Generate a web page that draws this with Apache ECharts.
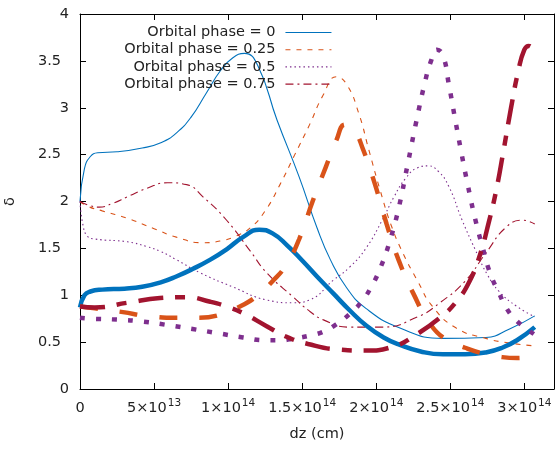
<!DOCTYPE html>
<html>
<head>
<meta charset="utf-8">
<script src="https://cdn.jsdelivr.net/npm/echarts@6/dist/echarts.min.js"></script>
<style>html,body{margin:0;padding:0;background:#fff}#c{width:556px;height:449px}</style>
</head>
<body>
<div id="c"></div>
<script>
// x in units of 1e14 cm, y = delta
const legendNames = ['Orbital phase = 0', 'Orbital phase = 0.25', 'Orbital phase = 0.5', 'Orbital phase = 0.75'];
const xTickStep = 5e13;
const yTickStep = 0.5;

const phase0Thin = [[0,2.0],[0.03,2.35],[0.07,2.48],[0.12,2.52],[0.25,2.53],[0.42,2.57],[0.55,2.63],[0.65,2.73],[0.75,2.9],[0.85,3.15],[0.95,3.4],[1.03,3.53],[1.11,3.58],[1.2,3.45],[1.33,2.87],[1.48,2.26],[1.6,1.72],[1.69,1.38],[1.8,1.08],[1.93,0.86],[2.16,0.65],[2.45,0.54],[2.74,0.55],[2.9,0.64],[3.07,0.78]];
const phase025Thin = [[0,2.0],[0.05,1.95],[0.15,1.9],[0.32,1.82],[0.5,1.71],[0.65,1.62],[0.83,1.56],[0.95,1.58],[1.05,1.63],[1.15,1.72],[1.25,1.9],[1.35,2.18],[1.45,2.5],[1.55,2.82],[1.64,3.13],[1.73,3.33],[1.8,3.25],[1.88,2.95],[1.95,2.55],[2.03,2.1],[2.1,1.75],[2.18,1.45],[2.28,1.15],[2.38,0.88],[2.54,0.65],[2.74,0.54],[2.9,0.49],[3.07,0.46]];
const phase05Thin = [[0,2.0],[0.02,1.75],[0.05,1.63],[0.1,1.6],[0.32,1.57],[0.45,1.52],[0.54,1.47],[0.65,1.38],[0.81,1.24],[1.03,1.09],[1.26,0.95],[1.44,0.92],[1.55,0.95],[1.71,1.16],[1.82,1.3],[1.93,1.5],[2.04,1.8],[2.12,2.05],[2.2,2.25],[2.28,2.36],[2.35,2.38],[2.42,2.32],[2.49,2.16],[2.58,1.8],[2.67,1.48],[2.75,1.22],[2.83,1.04],[2.95,0.88],[3.07,0.77]];
const phase075Thin = [[0,2.0],[0.06,1.96],[0.13,1.94],[0.22,1.98],[0.32,2.05],[0.45,2.14],[0.59,2.2],[0.72,2.18],[0.83,2.05],[0.99,1.8],[1.15,1.47],[1.26,1.24],[1.44,0.98],[1.55,0.83],[1.64,0.74],[1.82,0.66],[2.04,0.66],[2.28,0.77],[2.43,0.92],[2.6,1.15],[2.74,1.45],[2.88,1.73],[2.99,1.8],[3.07,1.76]];

const phase0Thick = [[0,0.87],[0.03,1.0],[0.07,1.04],[0.15,1.06],[0.3,1.07],[0.42,1.09],[0.55,1.14],[0.65,1.2],[0.76,1.28],[0.88,1.38],[0.99,1.49],[1.1,1.62],[1.21,1.70],[1.3,1.66],[1.4,1.53],[1.5,1.37],[1.6,1.2],[1.71,1.02],[1.82,0.84],[1.93,0.68],[2.05,0.55],[2.16,0.47],[2.3,0.4],[2.45,0.37],[2.6,0.37],[2.74,0.39],[2.85,0.44],[2.95,0.52],[3.07,0.66]];
const phase025Thick = [[0,0.88],[0.1,0.86],[0.29,0.82],[0.45,0.78],[0.65,0.76],[0.8,0.76],[0.94,0.79],[1.08,0.88],[1.2,1.0],[1.3,1.15],[1.39,1.32],[1.48,1.6],[1.57,2.0],[1.66,2.37],[1.73,2.65],[1.79,2.82],[1.85,2.76],[1.91,2.56],[1.99,2.19],[2.07,1.76],[2.15,1.38],[2.25,1.02],[2.37,0.68],[2.48,0.52],[2.6,0.44],[2.72,0.38],[2.85,0.34],[2.95,0.33],[3.07,0.35]];
const phase05Thick = [[0,0.76],[0.07,0.75],[0.25,0.74],[0.42,0.72],[0.6,0.68],[0.76,0.64],[0.95,0.59],[1.1,0.55],[1.25,0.52],[1.35,0.52],[1.45,0.54],[1.55,0.57],[1.64,0.61],[1.73,0.69],[1.82,0.8],[1.9,0.93],[1.97,1.1],[2.03,1.3],[2.09,1.57],[2.15,1.92],[2.21,2.38],[2.27,2.85],[2.33,3.28],[2.37,3.5],[2.41,3.62],[2.45,3.56],[2.49,3.25],[2.53,2.9],[2.57,2.56],[2.62,2.16],[2.67,1.8],[2.72,1.5],[2.77,1.23],[2.83,1.02],[2.88,0.86],[2.94,0.74],[3.0,0.66],[3.07,0.58]];
const phase075Thick = [[0,0.88],[0.1,0.87],[0.32,0.92],[0.54,0.97],[0.72,0.98],[0.88,0.93],[0.99,0.88],[1.1,0.81],[1.26,0.67],[1.39,0.56],[1.54,0.48],[1.75,0.42],[1.93,0.41],[2.11,0.45],[2.28,0.59],[2.43,0.76],[2.54,0.93],[2.63,1.15],[2.7,1.43],[2.76,1.78],[2.81,2.12],[2.86,2.55],[2.91,3.0],[2.96,3.4],[3.0,3.62],[3.03,3.66],[3.07,3.6]];

const colors = ['#0072bd', '#d95319', '#7e2f8e', '#a2142f'];
const FONT = 'DejaVu Sans';
const FS = 14.5;

function toCm(arr) { return arr.map(p => [p[0] * 1e14, p[1]]); }

function mkSeries(name, data, color, width, dash, z) {
  return {
    name: name, type: 'line', data: toCm(data), symbol: 'none', showSymbol: false, smooth: 0.5,
    lineStyle: { color: color, width: width, type: dash, cap: 'butt' },
    itemStyle: { color: color }, z: z, silent: true
  };
}

const series = [
  mkSeries(legendNames[0], phase0Thin, colors[0], 1.1, 'solid', 2),
  mkSeries(legendNames[1], phase025Thin, colors[1], 1.1, [5, 6], 2),
  mkSeries(legendNames[2], phase05Thin, colors[2], 1.1, [1.5, 3], 2),
  mkSeries(legendNames[3], phase075Thin, colors[3], 1.1, [8, 4, 2, 4], 2),
  mkSeries('thick0', phase0Thick, colors[0], 4.5, 'solid', 3),
  mkSeries('thick025', phase025Thick, colors[1], 4.5, [18, 22], 3),
  mkSeries('thick05', phase05Thick, colors[2], 4.5, [5, 11], 3),
  mkSeries('thick075', phase075Thick, colors[3], 4.5, [25, 12, 10, 12], 3)
];

const legends = legendNames.map((n, i) => ({
  data: [n], orient: 'vertical', align: 'right', right: 224, top: 25 + i * 17.2,
  itemWidth: 46, itemHeight: 14, itemGap: 0, padding: 0, selectedMode: false,
  itemStyle: { opacity: 0 },
  lineStyle: { width: 1.1 },
  textStyle: { fontSize: FS, fontFamily: FONT, color: '#222', padding: [0, 5, 0, 0] }
}));

function xFmt(v) {
  if (v === 0) return '{b|0}';
  if (v > 3.05e14) return '';
  const e = Math.floor(Math.log10(v) + 1e-9);
  const m = +(v / Math.pow(10, e)).toFixed(2);
  return '{b|' + m + '×10}{s|' + e + '}';
}

const chart = echarts.init(document.getElementById('c'), null, { renderer: 'canvas' });
chart.setOption({
  animation: false,
  backgroundColor: '#fff',
  textStyle: { fontFamily: FONT },
  grid: { left: 80, right: 2, top: 14, bottom: 60, containLabel: false, outerBoundsMode: 'none' },
  legend: legends,
  xAxis: [{
    type: 'value', min: 0, max: 3.2e14, interval: xTickStep,
    name: 'dz (cm)', nameLocation: 'middle', nameGap: 38,
    nameTextStyle: { fontSize: FS, fontFamily: FONT, color: '#222' },
    axisLine: { show: true, onZero: false, lineStyle: { color: '#000', width: 1 } },
    axisTick: { inside: true, length: 6, lineStyle: { color: '#000' } },
    splitLine: { show: false },
    axisLabel: {
      margin: 9, formatter: xFmt, color: '#222',
      rich: {
        b: { fontSize: FS, fontFamily: FONT, color: '#222', lineHeight: 18, verticalAlign: 'bottom' },
        s: { fontSize: 10.5, fontFamily: FONT, color: '#222', lineHeight: 18, verticalAlign: 'top', padding: [0, 0, 0, 1] }
      }
    }
  }, {
    type: 'value', position: 'top', min: 0, max: 3.2e14, interval: xTickStep,
    axisLine: { show: true, onZero: false, lineStyle: { color: '#000', width: 1 } },
    axisTick: { inside: true, length: 6, lineStyle: { color: '#000' } },
    axisLabel: { show: false }, splitLine: { show: false }
  }],
  yAxis: [{
    type: 'value', min: 0, max: 4, interval: yTickStep,
    name: 'δ', nameLocation: 'middle', nameGap: 62, nameRotate: 90,
    nameTextStyle: { fontSize: FS, fontFamily: FONT, color: '#222' },
    axisLine: { show: true, onZero: false, lineStyle: { color: '#000', width: 1 } },
    axisTick: { inside: true, length: 6, lineStyle: { color: '#000' } },
    splitLine: { show: false },
    axisLabel: {
      margin: 11, color: '#222',
      formatter: v => (v % 1 !== 0 ? '{h|' + v + '}' : '{n|' + v + '}'),
      rich: {
        n: { fontSize: FS, fontFamily: FONT, color: '#222' },
        h: { fontSize: FS, fontFamily: FONT, color: '#222', padding: [0, 8, 0, 0] }
      }
    }
  }, {
    type: 'value', position: 'right', min: 0, max: 4, interval: yTickStep,
    axisLine: { show: true, onZero: false, lineStyle: { color: '#000', width: 1 } },
    axisTick: { inside: true, length: 6, lineStyle: { color: '#000' } },
    axisLabel: { show: false }, splitLine: { show: false }
  }],
  series: series
});
</script>
</body>
</html>
